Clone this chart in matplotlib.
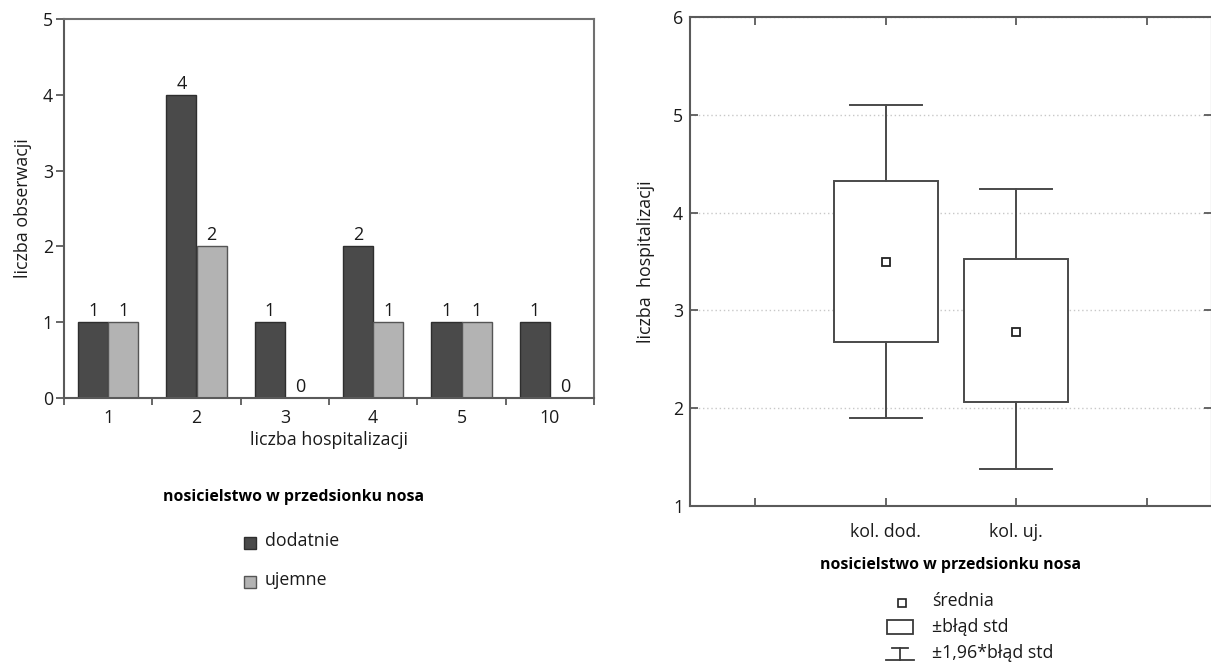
import numpy as np
import matplotlib
matplotlib.use("Agg")
import matplotlib.pyplot as plt
from matplotlib.patches import Rectangle
from matplotlib.lines import Line2D

plt.rcParams['font.family'] = ['Open Sans', 'DejaVu Sans']

# left chart data
hosp_labels = ['1', '2', '3', '4', '5', '10']
dodatnie = [1, 4, 1, 2, 1, 1]
ujemne = [1, 2, 0, 1, 1, 0]

# right chart data (mean, +-SE box, +-1.96*SE whiskers)
groups = ['kol. dod.', 'kol. uj.']
srednia = [3.49, 2.78]
box_lo = [2.68, 2.06]
box_hi = [4.32, 3.53]
wh_lo = [1.90, 1.38]
wh_hi = [5.10, 4.24]

dark = '#4a4a4a'
light = '#b3b3b3'
edge = '#2e2e2e'
spine_c = '#5a5a5a'
txt = '#1a1a1a'
fs = 12.8

W, H = 1211, 664
fig = plt.figure(figsize=(W / 100, H / 100), dpi=100)

def fx(px):
    return px / W

def fy(py):
    return 1 - py / H

# ---------------- left: grouped bars ----------------
ax = fig.add_axes([fx(64), fy(398), fx(594) - fx(64), fy(19) - fy(398)])
x = np.arange(len(hosp_labels))
bw = 0.34
b1 = ax.bar(x - bw / 2, dodatnie, bw, color=dark, edgecolor=edge, linewidth=1)
b2 = ax.bar(x + bw / 2, ujemne, bw, color=light, edgecolor='#555555', linewidth=1)
for xi, v in zip(x, dodatnie):
    ax.text(xi - bw / 2, v + 0.03, str(v), ha='center', va='bottom', fontsize=13, color=txt)
for xi, v in zip(x, ujemne):
    ax.text(xi + bw / 2, v + 0.03, str(v), ha='center', va='bottom', fontsize=13, color=txt)

ax.set_xlim(-0.5, len(x) - 0.5)
ax.set_ylim(0, 5)
ax.set_yticks(range(6))
ax.set_xticks(x)
ax.set_xticklabels(hosp_labels)
ax.set_xticks(np.arange(-0.5, len(x), 1), minor=True)
ax.tick_params(axis='x', which='major', length=0, pad=8, labelsize=fs, colors=txt)
ax.tick_params(axis='x', which='minor', length=5, width=1.3, color=spine_c, direction='out')
ax.tick_params(axis='y', length=6, width=1.3, color=spine_c, direction='out', pad=2,
               labelsize=fs, labelcolor=txt)
for s in ax.spines.values():
    s.set_color('#707070')
    s.set_linewidth(1.5)
ax.spines['bottom'].set_color(spine_c)
ax.spines['left'].set_color(spine_c)
ax.set_xlabel('liczba hospitalizacji', fontsize=fs, color=txt, labelpad=3)
ax.set_ylabel('liczba obserwacji', fontsize=fs, color=txt, labelpad=8)

# left legend (drawn by hand)
fig.text(fx(294), fy(497), 'nosicielstwo w przedsionku nosa', ha='center', va='center',
         fontsize=11.4, fontweight='bold', color='black')
for yy, col, ec, lab in [(543, dark, edge, 'dodatnie'), (582, light, '#555555', 'ujemne')]:
    fig.add_artist(Rectangle((fx(244), fy(yy + 6)), fx(12), fy(0) - fy(12),
                             facecolor=col, edgecolor=ec, linewidth=1, transform=fig.transFigure))
    fig.text(fx(265), fy(yy - 2), lab, ha='left', va='center', fontsize=fs, color=txt)

# ---------------- right: mean / SE box plot ----------------
ax2 = fig.add_axes([fx(690), fy(506), fx(1212) - fx(690), fy(17) - fy(506)])
pos = [1, 2]
bwid = 0.8
cap = 0.55
for p, m, lo, hi, wl, wh in zip(pos, srednia, box_lo, box_hi, wh_lo, wh_hi):
    ax2.add_patch(Rectangle((p - bwid / 2, lo), bwid, hi - lo, facecolor='white',
                            edgecolor='#4a4a4a', linewidth=1.4, zorder=3))
    ax2.plot([p, p], [hi, wh], color='#4a4a4a', lw=1.4, zorder=3)
    ax2.plot([p, p], [wl, lo], color='#4a4a4a', lw=1.4, zorder=3)
    ax2.plot([p - cap / 2, p + cap / 2], [wh, wh], color='#4a4a4a', lw=1.4, zorder=3)
    ax2.plot([p - cap / 2, p + cap / 2], [wl, wl], color='#4a4a4a', lw=1.4, zorder=3)
    ax2.plot([p], [m], marker='s', ms=6, mfc='white', mec='#222222', mew=1.3, zorder=4)

ax2.set_xlim(-0.5, 3.5)
ax2.set_ylim(1, 6)
ax2.set_yticks(range(1, 7))
ax2.set_xticks([0, 1, 2, 3])
ax2.set_xticklabels(['', groups[0], groups[1], ''])
ax2.grid(axis='y', linestyle=(0, (1, 2)), color='#c8c8c8', linewidth=1)
ax2.set_axisbelow(True)
ax2.tick_params(axis='both', direction='in', length=6, width=1.3, color=spine_c,
                top=True, right=True, labelsize=fs, labelcolor=txt)
ax2.tick_params(axis='x', pad=12)
ax2.tick_params(axis='y', pad=5)
for s in ax2.spines.values():
    s.set_color(spine_c)
    s.set_linewidth(1.5)
ax2.set_ylabel('liczba  hospitalizacji', fontsize=fs, color=txt, labelpad=13)
ax2.set_xlabel('nosicielstwo w przedsionku nosa', fontsize=11.4, fontweight='bold',
               color='black', labelpad=12)

# right legend (drawn by hand)
lc = '#3a3a3a'
fig.add_artist(Line2D([fx(902)], [fy(603)], marker='s', ms=5.5, mfc='white', mec='#222222',
                      mew=1.2, transform=fig.transFigure))
fig.add_artist(Rectangle((fx(887), fy(634)), fx(26), fy(0) - fy(14), facecolor='white',
                         edgecolor=lc, linewidth=1.3, transform=fig.transFigure))
fig.add_artist(Line2D([fx(892), fx(908)], [fy(648), fy(648)], color=lc, lw=1.3, transform=fig.transFigure))
fig.add_artist(Line2D([fx(900), fx(900)], [fy(648), fy(660)], color=lc, lw=1.3, transform=fig.transFigure))
fig.add_artist(Line2D([fx(886), fx(914)], [fy(660), fy(660)], color=lc, lw=1.3, transform=fig.transFigure))
for yy, lab in [(601, 'średnia'), (627, '±błąd std'), (653, '±1,96*błąd std')]:
    fig.text(fx(932), fy(yy), lab, ha='left', va='center', fontsize=fs, color=txt)

fig.savefig('out.png', dpi=100)
